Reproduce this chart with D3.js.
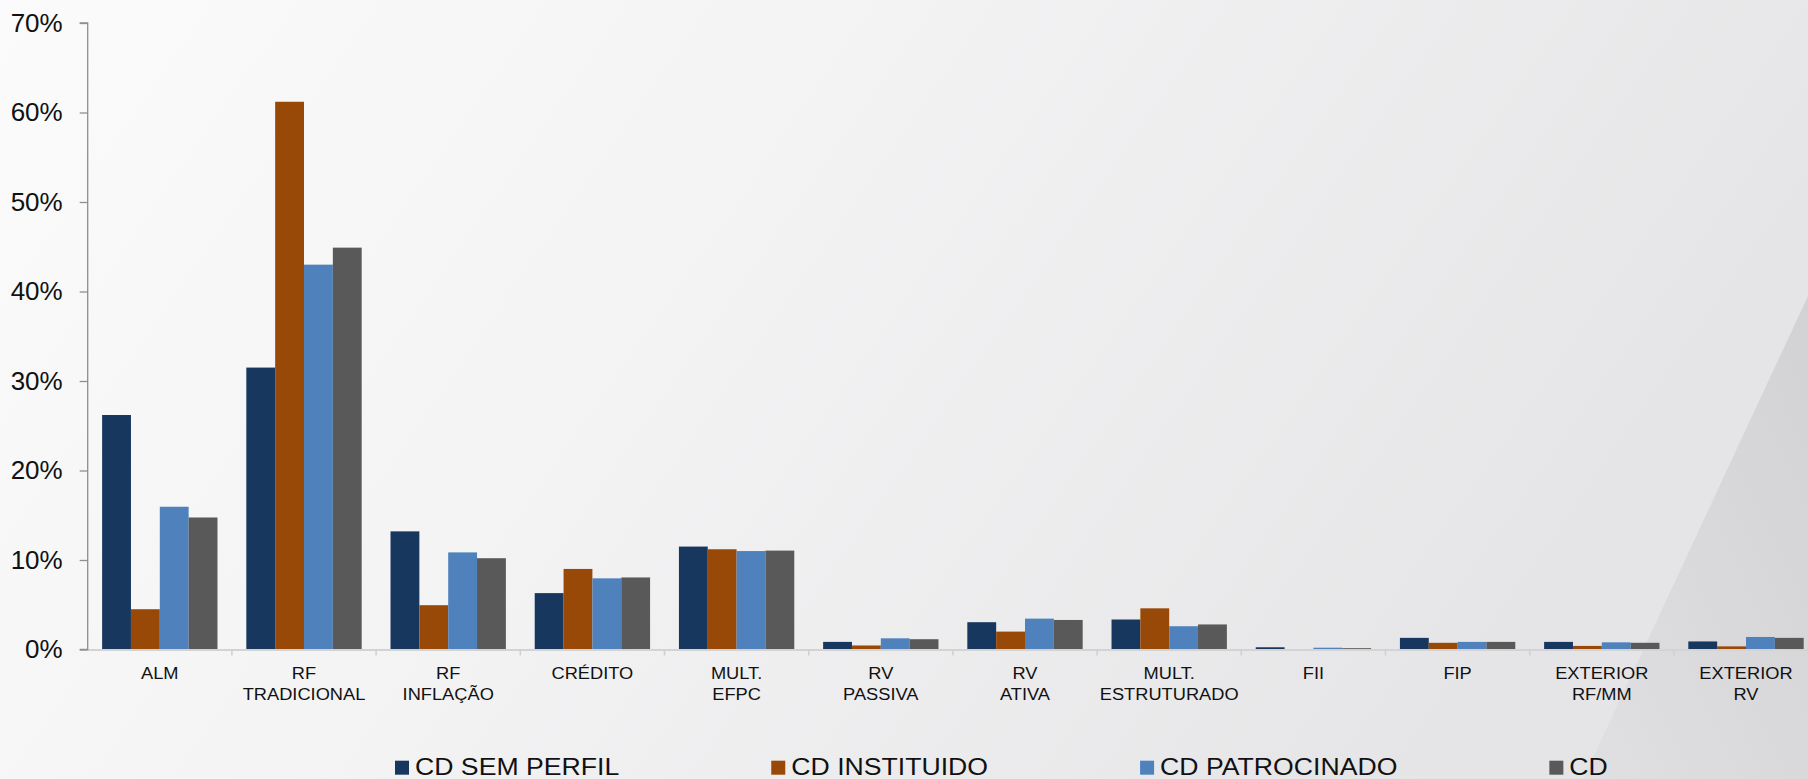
<!DOCTYPE html>
<html>
<head>
<meta charset="utf-8">
<script src="https://cdn.jsdelivr.net/npm/d3@7"></script>
<style>
  html, body { margin: 0; padding: 0; overflow: hidden; }
  svg { display: block; font-family: "Liberation Sans", Arial, sans-serif; }
</style>
</head>
<body>
<svg id="chart" width="1808" height="779"></svg>
<script>
// ---- data ----
const categories = ["ALM", "RF\nTRADICIONAL", "RF\nINFLAÇÃO", "CRÉDITO", "MULT.\nEFPC", "RV\nPASSIVA",
  "RV\nATIVA", "MULT.\nESTRUTURADO", "FII", "FIP", "EXTERIOR\nRF/MM", "EXTERIOR\nRV"];
const seriesNames = ["CD SEM PERFIL", "CD INSTITUIDO", "CD PATROCINADO", "CD"];
const cdSemPerfil   = [26.2, 31.5, 13.2, 6.3, 11.5, 0.85, 3.05, 3.35, 0.25, 1.3, 0.85, 0.9];
const cdInstituido  = [4.5, 61.2, 4.95, 9.0, 11.2, 0.45, 2.0, 4.6, 0.05, 0.75, 0.4, 0.35];
const cdPatrocinado = [15.95, 43.0, 10.85, 7.95, 11.0, 1.25, 3.45, 2.6, 0.2, 0.85, 0.8, 1.4];
const cdTotal       = [14.75, 44.9, 10.2, 8.05, 11.05, 1.15, 3.3, 2.8, 0.15, 0.85, 0.75, 1.3];
const yTicks = [0, 10, 20, 30, 40, 50, 60, 70];

const seriesValues = [cdSemPerfil, cdInstituido, cdPatrocinado, cdTotal];
const colors = ["#17375E", "#984807", "#4F81BD", "#595959"];

// ---- layout ----
const svg = d3.select("#chart");
const W = 1808, H = 779;
const plotLeft = 87.7, step = 144.2, plotTop = 23, plotBottom = 649.5;

// background
const defs = svg.append("defs");
const bg = defs.append("linearGradient").attr("id", "bg").attr("x1", "0").attr("x2", "1").attr("y1", "0").attr("y2", "0.3");
bg.append("stop").attr("offset", "0").attr("stop-color", "#fbfbfb");
bg.append("stop").attr("offset", "0.45").attr("stop-color", "#f3f3f4");
bg.append("stop").attr("offset", "1").attr("stop-color", "#e5e5e7");
const sw = defs.append("linearGradient").attr("id", "sw").attr("x1", "0").attr("x2", "1").attr("y1", "1").attr("y2", "0");
sw.append("stop").attr("offset", "0").attr("stop-color", "#e0e0e2");
sw.append("stop").attr("offset", "1").attr("stop-color", "#d2d2d5");
svg.append("rect").attr("width", W).attr("height", H).attr("fill", "url(#bg)");
svg.append("path").attr("d", `M${W},296 L${W},${H} L1583,${H} Z`).attr("fill", "url(#sw)");

// scales
const x0 = d3.scaleBand().domain(categories).range([plotLeft, plotLeft + step * categories.length]).paddingInner(0).paddingOuter(0);
const x1 = d3.scaleBand().domain(seriesNames).range([0, x0.bandwidth()]).paddingInner(0).paddingOuter(0.5);
const y = d3.scaleLinear().domain([0, 70]).range([plotBottom, plotTop]);

// bars
const groups = svg.append("g").selectAll("g").data(categories).join("g")
  .attr("transform", d => `translate(${x0(d)},0)`);
groups.selectAll("rect").data((c, i) => seriesNames.map((s, j) => ({ s, j, v: seriesValues[j][i] })))
  .join("rect")
  .attr("x", d => x1(d.s))
  .attr("width", x1.bandwidth())
  .attr("y", d => y(d.v))
  .attr("height", d => plotBottom - y(d.v))
  .attr("fill", d => colors[d.j]);

// x axis baseline + ticks
const xAxisG = svg.append("g");
xAxisG.append("line").attr("x1", plotLeft).attr("x2", W).attr("y1", plotBottom + 0.5).attr("y2", plotBottom + 0.5)
  .attr("stroke", "#d3d3d3").attr("stroke-width", 2);
xAxisG.selectAll("line.tk").data(categories).join("line").attr("class", "tk")
  .attr("x1", d => x0(d) + step).attr("x2", d => x0(d) + step)
  .attr("y1", plotBottom).attr("y2", plotBottom + 6)
  .attr("stroke", "#cfcfcf").attr("stroke-width", 1.5);

// x labels
const labs = svg.append("g").selectAll("text").data(categories).join("text")
  .attr("transform", d => `translate(${x0(d) + x0.bandwidth() / 2},679) scale(1.12,1)`)
  .attr("text-anchor", "middle").attr("font-size", 16.3).attr("fill", "#111");
labs.selectAll("tspan").data(d => d.split("\n")).join("tspan")
  .attr("x", 0).attr("y", (d, i) => i * 21).text(d => d);

// y axis
const yAxis = d3.axisLeft(y).tickValues(yTicks).tickFormat(d => d + "%").tickSize(8).tickPadding(17);
const yg = svg.append("g").attr("transform", `translate(${plotLeft},0)`).call(yAxis);
yg.select(".domain").attr("stroke", "#8e8e8e").attr("stroke-width", 1.3).attr("d", `M-8,${plotTop}H0V${plotBottom}H-8`);
yg.selectAll(".tick line").attr("stroke", "#8e8e8e").attr("stroke-width", 1.3);
yg.selectAll(".tick text").attr("font-size", 26).attr("fill", "#111").attr("font-family", "Liberation Sans, Arial, sans-serif");

// legend
const leg = svg.append("g");
let lx = 395;
seriesNames.forEach((name, j) => {
  leg.append("rect").attr("x", lx).attr("y", 760.7).attr("width", 14).attr("height", 14).attr("fill", colors[j]);
  const t = leg.append("text").attr("transform", `translate(${lx + 20},775) scale(1.12,1)`)
    .attr("font-size", 23.8).attr("fill", "#111").text(name);
  const w = t.node().getComputedTextLength() * 1.12;
  lx += 20 + w + 152;
});
</script>
</body>
</html>
